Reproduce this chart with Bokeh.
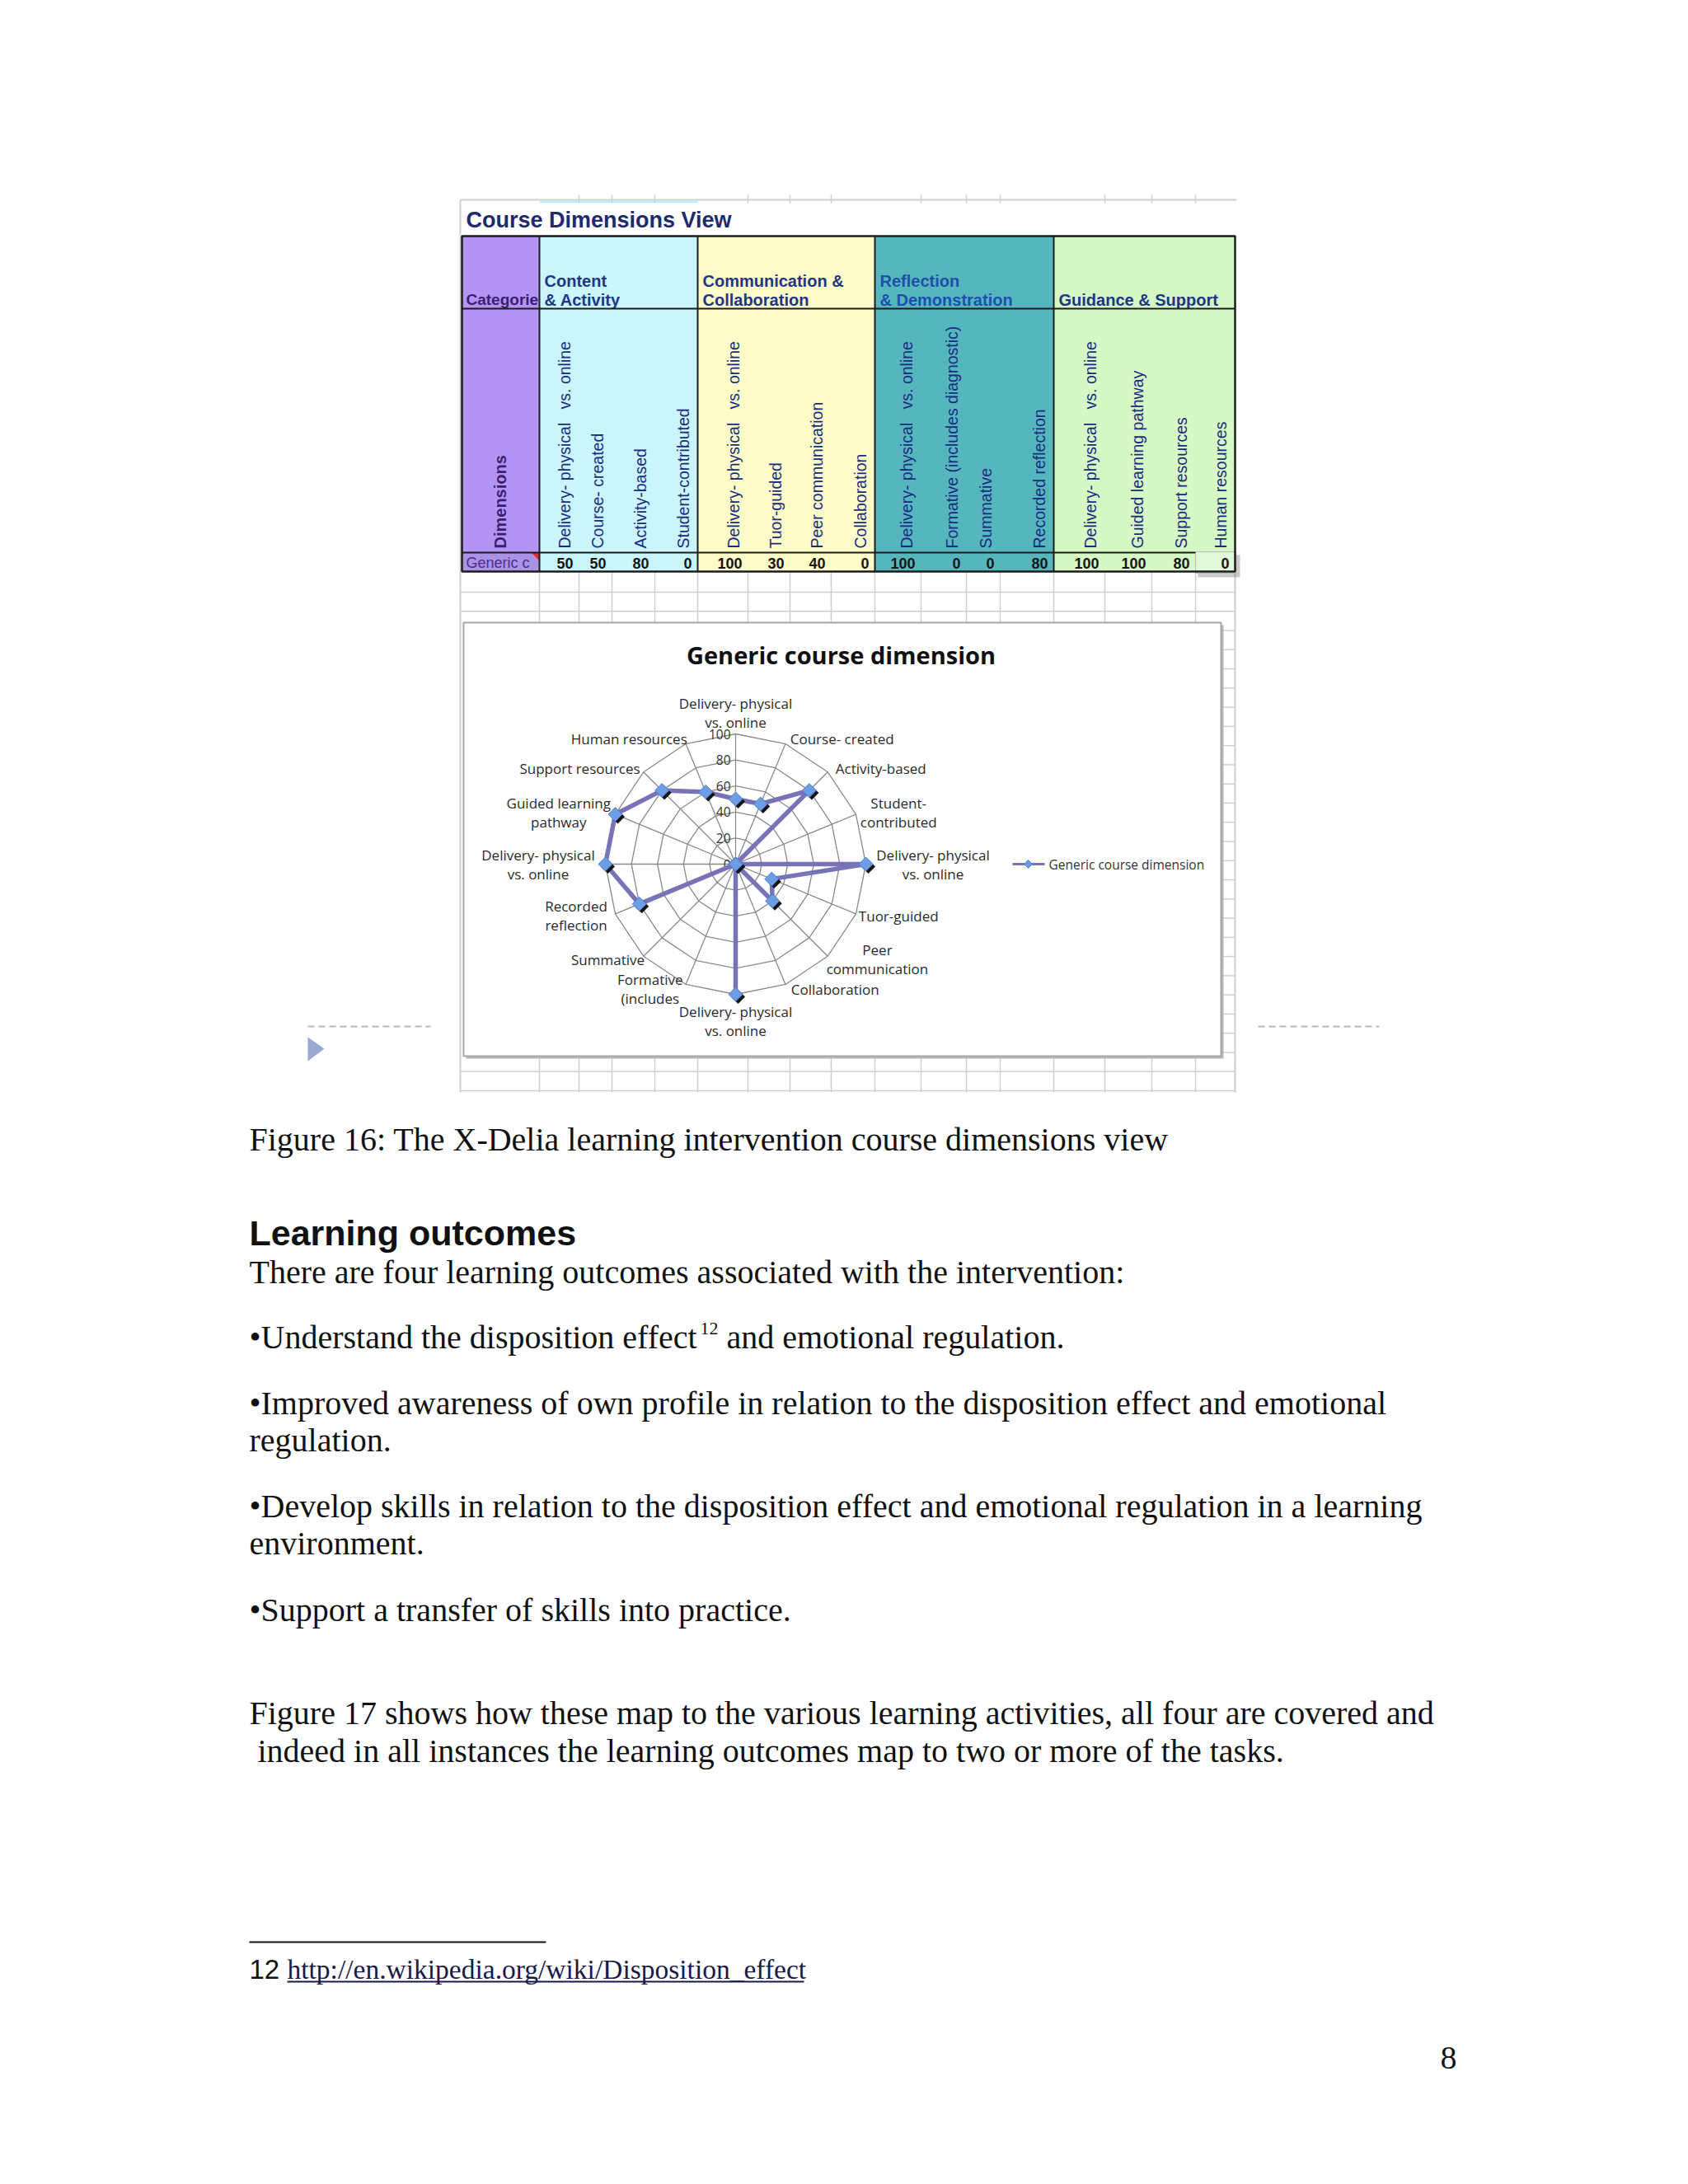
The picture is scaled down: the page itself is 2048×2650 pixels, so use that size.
import numpy as np
from bokeh.plotting import figure
from bokeh.models import Range1d
from bokeh.embed import file_html
from bokeh.resources import INLINE
from bokeh.core.properties import value

# ---------------- data ----------------
table_title = "Course Dimensions View"
group_names = ["Content\n& Activity", "Communication &\nCollaboration",
               "Reflection\n& Demonstration", "Guidance & Support"]
group_colors = ["#c9f5fb", "#fdfcc8", "#55b7bd", "#d5f8c4"]
group_text_colors = ["#1f3585", "#1f3585", "#1f4fae", "#1f3585"]
GAP = "\u00a0\u00a0\u00a0"
dimension_names = [
    "Delivery- physical" + GAP + "vs. online", "Course- created", "Activity-based", "Student-contributed",
    "Delivery- physical" + GAP + "vs. online", "Tuor-guided", "Peer communication", "Collaboration",
    "Delivery- physical" + GAP + "vs. online", "Formative (includes diagnostic)", "Summative", "Recorded reflection",
    "Delivery- physical" + GAP + "vs. online", "Guided learning pathway", "Support resources", "Human resources",
]
table_values = [50, 50, 80, 0, 100, 30, 40, 0, 100, 0, 0, 80, 100, 100, 80, 0]

chart_title = "Generic course dimension"
series_name = "Generic course dimension"
chart_labels = [
    "Delivery- physical\nvs. online", "Course- created", "Activity-based", "Student-\ncontributed",
    "Delivery- physical\nvs. online", "Tuor-guided", "Peer\ncommunication", "Collaboration",
    "Delivery- physical\nvs. online", "Formative\n(includes", "Summative", "Recorded\nreflection",
    "Delivery- physical\nvs. online", "Guided learning\npathway", "Support resources", "Human resources",
]
chart_values = [50, 50, 80, 0, 100, 30, 40, 0, 100, 0, 0, 80, 100, 100, 80, 60]
radial_ticks = [0, 20, 40, 60, 80, 100]

caption = "Figure 16: The X-Delia learning intervention course dimensions view"
heading = "Learning outcomes"
body_lines = [
    "There are four learning outcomes associated with the intervention:",
    "•Improved awareness of own profile in relation to the disposition effect and emotional",
    "regulation.",
    "•Develop skills in relation to the disposition effect and emotional regulation in a learning",
    "environment.",
    "•Support a transfer of skills into practice.",
    "Figure 17 shows how these map to the various learning activities, all four are covered and",
    "\u00a0indeed in all instances the learning outcomes map to two or more of the tasks.",
]
footnote_url = "http://en.wikipedia.org/wiki/Disposition_effect"

# ---------------- layout ----------------
W, H = 2032, 2634
p = figure(width=W, height=H, x_range=Range1d(0, W), y_range=Range1d(H, 0),
           output_backend="svg", toolbar_location=None,
           x_axis_location=None, y_axis_location=None, min_border=0)
p.grid.visible = False
p.outline_line_color = None
p.background_fill_color = "#ffffff"
p.border_fill_color = "#ffffff"


def txt(x, y, s, size, font="Liberation Sans", color="#111111", align="left",
        baseline="middle", style="normal", angle=0.0, lh=1.2):
    p.text(x=[x], y=[y], text=[s], text_font=value(font), text_font_size=f"{size}px",
           text_color=color, text_align=align, text_baseline=baseline,
           text_font_style=style, angle=angle, text_line_height=lh)


GRID = "#cfcfcf"
col_edges = [654, 702, 742, 794, 846, 907, 958, 1008, 1061, 1117, 1172, 1213, 1278,
             1340, 1397, 1450, 1498]
TX0, TY0, TY1, TY2, TY3 = 560, 286, 374, 670, 693
CH_X0, CH_X1, CH_Y0, CH_Y1 = 562, 1481, 755, 1281

# spreadsheet frame
p.line([558, 1500], [242, 242], line_color=GRID, line_width=2)
p.line([654, 846], [244, 244], line_color="#bdeff5", line_width=3)
for xe in [702, 742, 794, 907, 958, 1008, 1117, 1172, 1213, 1340, 1397, 1450]:
    p.line([xe, xe], [236, 246], line_color=GRID, line_width=1.5)
p.line([558, 558], [242, 1325], line_color=GRID, line_width=2)
p.line([1498, 1498], [693, 1325], line_color=GRID, line_width=2)
rows = 718 + 23.27 * np.arange(27)
for ry in rows:
    if CH_Y0 - 4 <= ry < CH_Y1 + 4:
        p.line([CH_X1, 1498], [ry, ry], line_color=GRID, line_width=1.5)
    else:
        p.line([558, 1498], [ry, ry], line_color=GRID, line_width=1.5)
for xe in col_edges:
    p.line([xe, xe], [TY3, CH_Y0], line_color=GRID, line_width=1.5)
    p.line([xe, xe], [CH_Y1, 1325], line_color=GRID, line_width=1.5)

# table title
txt(565, 266, table_title, 27, style="bold", color="#1f2a6e")

# category column
p.quad(left=[TX0], right=[654], top=[TY0], bottom=[TY2], fill_color="#b393f4", line_color=None)
p.quad(left=[TX0], right=[654], top=[TY2], bottom=[TY3], fill_color="#aa92e4", line_color=None)
txt(565, 363, "Categorie", 19, style="bold", color="#3b1e70")
txt(606, 665, "Dimensions", 20, style="bold", color="#3b1e70", angle=np.pi / 2)
txt(565, 682, "Generic c", 18, color="#4a2f90")
p.patch([644, 654, 654], [670, 670, 680], fill_color="#e0302a", line_color=None)

# groups
for g in range(4):
    x0 = col_edges[4 * g]
    x1 = col_edges[4 * g + 4]
    p.quad(left=[x0], right=[x1], top=[TY0], bottom=[TY3], fill_color=group_colors[g], line_color=None)
    lines = group_names[g].split("\n")
    for k, ln in enumerate(lines):
        yy = 363 - (len(lines) - 1 - k) * 23
        txt(x0 + 6, yy, ln, 20, style="bold", color=group_text_colors[g])

# selected cell (Human resources value)
p.quad(left=[1453], right=[1504], top=[673], bottom=[700], fill_color="#888888", fill_alpha=0.45,
       line_color=None)
p.quad(left=[1450], right=[1499], top=[669], bottom=[695], fill_color="#e3f8da", line_color="#bbbbbb")

# rotated dimension labels and values
for i in range(16):
    right = col_edges[i + 1]
    txt(right - 18, 665, dimension_names[i], 19.5, color="#192c80", angle=np.pi / 2)
    txt(right - 7, 683, str(table_values[i]), 18, style="bold", color="#151515", align="right")

# table borders
LC = "#1c1c1c"
p.quad(left=[TX0], right=[1498], top=[TY0], bottom=[TY3], fill_color=None, line_color=LC, line_width=2.5)
p.line([TX0, 1450], [TY1, TY1], line_color=LC, line_width=2)
p.line([TX0, 1450], [TY2, TY2], line_color=LC, line_width=2)
p.line([1450, 1498], [TY1, TY1], line_color=LC, line_width=2)
for xe in [654, 846, 1061, 1278]:
    p.line([xe, xe], [TY0, TY3], line_color=LC, line_width=2)

# ---------------- radar chart ----------------
p.quad(left=[CH_X0 + 3], right=[CH_X1 + 3], top=[CH_Y0 + 3], bottom=[CH_Y1 + 3],
       fill_color="#b8b8b8", line_color=None)
p.quad(left=[CH_X0], right=[CH_X1], top=[CH_Y0], bottom=[CH_Y1], fill_color="#ffffff",
       line_color="#a5a5a5", line_width=2)
txt(1020, 794, chart_title, 29, font="Open Sans", style="bold", color="#111111", align="center")

cx, cy, R = 892, 1048, 158
n = len(chart_values)
theta = np.arange(n) * 2 * np.pi / n
sx, sy = np.sin(theta), -np.cos(theta)

rings_x, rings_y = [], []
for t in radial_ticks[1:]:
    rr = R * t / 100
    rings_x.append(list(cx + rr * np.append(sx, sx[0])))
    rings_y.append(list(cy + rr * np.append(sy, sy[0])))
p.multi_line(rings_x, rings_y, line_color="#8a8a8a", line_width=1.3)
p.multi_line([[cx, cx + R * a] for a in sx], [[cy, cy + R * b] for b in sy],
             line_color="#8a8a8a", line_width=1.3)

for t in radial_ticks:
    txt(cx - 6, cy - R * t / 100, str(t), 15.5, font="Open Sans", color="#333333", align="right")

vals = np.array(chart_values, dtype=float)
px = cx + R * vals / 100 * sx
py = cy + R * vals / 100 * sy
p.line(list(np.append(px, px[0])), list(np.append(py, py[0])), line_color="#7773b6", line_width=5.5)
p.scatter(list(px + 3), list(py + 3), marker="square", angle=np.pi / 4, size=12,
          fill_color="#151515", line_color=None)
p.scatter(list(px), list(py), marker="square", angle=np.pi / 4, size=12,
          fill_color="#6d9de4", line_color="#4f7fcc", line_width=1)

FS = 17
for i in range(n):
    s, c = sx[i], -sy[i]
    lab = chart_labels[i]
    wlen = max(len(l) for l in lab.split("\n")) * 0.5 * FS
    ex, ey = cx + R * s, cy - R * c
    if abs(s) < 0.1:
        if c > 0:
            txt(ex, ey - 3, lab, FS, font="Open Sans", color="#2a2a2a", align="center",
                baseline="bottom", lh=1.0)
        else:
            txt(ex, ey + 9, lab, FS, font="Open Sans", color="#2a2a2a", align="center",
                baseline="top", lh=1.0)
    else:
        bx = ex + 5 * np.sign(s)
        xc = bx + np.sign(s) * wlen / 2
        yc = ey - 6 * c
        txt(xc, yc, lab, FS, font="Open Sans", color="#2a2a2a", align="center", lh=1.0)

# legend
p.line([1228, 1267], [1048, 1048], line_color="#7773b6", line_width=3)
p.scatter([1247], [1048], marker="square", angle=np.pi / 4, size=7, fill_color="#6d9de4",
          line_color="#4f7fcc")
txt(1272, 1048, series_name, 15.5, font="Open Sans", color="#333333")

# decorations
p.line([373, 522], [1245, 1245], line_color="#b5b5bd", line_width=2, line_dash="8 5")
p.line([1526, 1673], [1245, 1245], line_color="#b5b5bd", line_width=2, line_dash="8 5")
p.patch([373, 373, 393], [1258, 1287, 1272], fill_color="#9aa8d2", line_color=None)

# ---------------- document text ----------------
SER = "Liberation Serif"
BFS = 40
txt(302, 1382, caption, BFS, font=SER)
txt(302, 1495, heading, 43, style="bold", color="#111111")
txt(302, 1543, body_lines[0], BFS, font=SER)
txt(302, 1622, "•Understand the disposition effect", BFS, font=SER)
txt(849, 1611, "12", 22, font=SER)
txt(881, 1622, "and emotional regulation.", BFS, font=SER)
ys = [1702, 1747, 1827, 1872, 1953, 2078, 2124]
for yy, ln in zip(ys, body_lines[1:]):
    txt(302, yy, ln, BFS, font=SER)

p.line([302, 662], [2356, 2356], line_color="#111111", line_width=2)
txt(302, 2389, "12", 33, color="#111111")
txt(348, 2389, footnote_url, 33.5, font=SER, color="#1a1a4a")
p.line([348, 975], [2404, 2404], line_color="#1a1a4a", line_width=2)
txt(1767, 2496, "8", BFS, font=SER, align="right")

open("out.html", "w").write(file_html(p, INLINE))
